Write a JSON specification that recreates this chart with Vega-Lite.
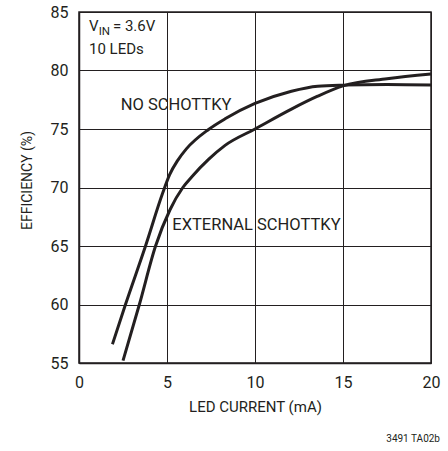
{
  "$schema": "https://vega.github.io/schema/vega-lite/v6.json",
  "width": 352,
  "height": 351,
  "autosize": {"type": "none"},
  "padding": {"left": 79, "top": 12, "right": 17, "bottom": 88},
  "background": "white",
  "config": {
    "font": "Roboto",
    "view": {"stroke": "#231f20", "strokeWidth": 1.5},
    "axis": {
      "labelFont": "Roboto",
      "titleFont": "Roboto",
      "labelColor": "#231f20",
      "titleColor": "#231f20",
      "titleFontWeight": "normal",
      "grid": true,
      "gridColor": "#231f20",
      "gridOpacity": 1,
      "gridWidth": 1,
      "domainColor": "#231f20",
      "domainWidth": 1.5,
      "ticks": true,
      "tickSize": 0,
      "labelFontSize": 16,
      "titleFontSize": 15
    }
  },
  "title": {
    "text": "3491 TA02b",
    "orient": "bottom",
    "anchor": "end",
    "font": "Roboto",
    "fontSize": 10,
    "fontWeight": "normal",
    "color": "#231f20",
    "offset": 20
  },
  "datasets": {
    "curves": [
      {"series": "NO SCHOTTKY", "current": 1.9, "eff": 56.6},
      {"series": "NO SCHOTTKY", "current": 2.64, "eff": 60},
      {"series": "NO SCHOTTKY", "current": 3.78, "eff": 65},
      {"series": "NO SCHOTTKY", "current": 4.75, "eff": 69.5},
      {"series": "NO SCHOTTKY", "current": 5.15, "eff": 71.1},
      {"series": "NO SCHOTTKY", "current": 5.6, "eff": 72.3},
      {"series": "NO SCHOTTKY", "current": 6.1, "eff": 73.3},
      {"series": "NO SCHOTTKY", "current": 7.36, "eff": 74.96},
      {"series": "NO SCHOTTKY", "current": 8.3, "eff": 75.87},
      {"series": "NO SCHOTTKY", "current": 10.0, "eff": 77.18},
      {"series": "NO SCHOTTKY", "current": 12.07, "eff": 78.23},
      {"series": "NO SCHOTTKY", "current": 13.56, "eff": 78.66},
      {"series": "NO SCHOTTKY", "current": 15.0, "eff": 78.75},
      {"series": "NO SCHOTTKY", "current": 17.5, "eff": 78.8},
      {"series": "NO SCHOTTKY", "current": 20.0, "eff": 78.75},
      {"series": "EXTERNAL SCHOTTKY", "current": 2.5, "eff": 55.2},
      {"series": "EXTERNAL SCHOTTKY", "current": 3.43, "eff": 60},
      {"series": "EXTERNAL SCHOTTKY", "current": 4.35, "eff": 65},
      {"series": "EXTERNAL SCHOTTKY", "current": 5.17, "eff": 68.1},
      {"series": "EXTERNAL SCHOTTKY", "current": 5.9, "eff": 70.0},
      {"series": "EXTERNAL SCHOTTKY", "current": 6.4, "eff": 70.9},
      {"series": "EXTERNAL SCHOTTKY", "current": 7.36, "eff": 72.4},
      {"series": "EXTERNAL SCHOTTKY", "current": 8.3, "eff": 73.6},
      {"series": "EXTERNAL SCHOTTKY", "current": 10.0, "eff": 75.0},
      {"series": "EXTERNAL SCHOTTKY", "current": 12.07, "eff": 76.7},
      {"series": "EXTERNAL SCHOTTKY", "current": 13.56, "eff": 77.8},
      {"series": "EXTERNAL SCHOTTKY", "current": 15.0, "eff": 78.68},
      {"series": "EXTERNAL SCHOTTKY", "current": 17.5, "eff": 79.3},
      {"series": "EXTERNAL SCHOTTKY", "current": 20.0, "eff": 79.7}
    ],
    "curveLabels": [
      {"text": "NO SCHOTTKY", "current": 2.37, "eff": 77.07},
      {"text": "EXTERNAL SCHOTTKY", "current": 5.3, "eff": 66.8}
    ],
    "infoMain": [
      {"text": "V", "current": 0.57, "eff": 83.8},
      {"text": "= 3.6V", "current": 1.93, "eff": 83.8},
      {"text": "10 LEDs", "current": 0.57, "eff": 81.8}
    ],
    "infoSub": [
      {"text": "IN", "current": 1.12, "eff": 83.33}
    ]
  },
  "layer": [
    {
      "data": {"name": "curves"},
      "mark": {"type": "line", "interpolate": "monotone", "color": "#231f20", "strokeWidth": 3, "strokeCap": "butt"},
      "encoding": {
        "x": {
          "field": "current", "type": "quantitative",
          "scale": {"domain": [0, 20], "nice": false},
          "axis": {"values": [0, 5, 10, 15, 20], "title": "LED CURRENT (mA)", "labelPadding": 11, "titlePadding": 9, "labelFlush": false}
        },
        "y": {
          "field": "eff", "type": "quantitative",
          "scale": {"domain": [55, 85], "nice": false, "zero": false},
          "axis": {"values": [55, 60, 65, 70, 75, 80, 85], "title": "EFFICIENCY (%)", "labelPadding": 11, "titlePadding": 16, "titleFontSize": 14, "titleY": 168}
        },
        "detail": {"field": "series"}
      }
    },
    {
      "data": {"name": "curveLabels"},
      "mark": {"type": "text", "align": "left", "baseline": "middle", "fontSize": 16.5, "color": "#231f20", "font": "Roboto"},
      "encoding": {
        "x": {"field": "current", "type": "quantitative", "scale": {"domain": [0, 20], "nice": false}},
        "y": {"field": "eff", "type": "quantitative", "scale": {"domain": [55, 85], "nice": false, "zero": false}},
        "text": {"field": "text"}
      }
    },
    {
      "data": {"name": "infoMain"},
      "mark": {"type": "text", "align": "left", "baseline": "middle", "fontSize": 15, "color": "#231f20", "font": "Roboto"},
      "encoding": {
        "x": {"field": "current", "type": "quantitative", "scale": {"domain": [0, 20], "nice": false}},
        "y": {"field": "eff", "type": "quantitative", "scale": {"domain": [55, 85], "nice": false, "zero": false}},
        "text": {"field": "text"}
      }
    },
    {
      "data": {"name": "infoSub"},
      "mark": {"type": "text", "align": "left", "baseline": "middle", "fontSize": 11.5, "color": "#231f20", "font": "Roboto"},
      "encoding": {
        "x": {"field": "current", "type": "quantitative", "scale": {"domain": [0, 20], "nice": false}},
        "y": {"field": "eff", "type": "quantitative", "scale": {"domain": [55, 85], "nice": false, "zero": false}},
        "text": {"field": "text"}
      }
    }
  ]
}
